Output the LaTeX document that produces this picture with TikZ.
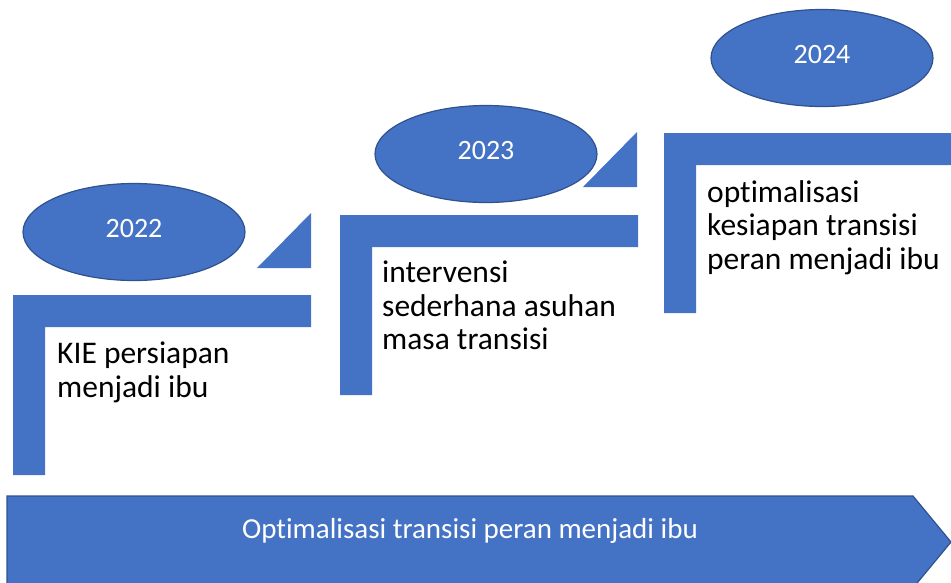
\documentclass[tikz,border=0pt]{standalone}
\usepackage{fontspec}
\setmainfont{Carlito}[Ligatures=NoCommon]
\usepackage{tikz}
\usetikzlibrary{shapes.geometric}
\usepackage{xcolor}
\definecolor{stepblue}{HTML}{4472C4}
\definecolor{edgeblue}{HTML}{2F528F}

\tikzset{
    yearball/.style={ellipse, draw=edgeblue, line width=1.2pt, fill=stepblue,
        minimum width=222pt, minimum height=97pt, text=white, text depth=8pt,
        font=\fontsize{28}{34}\selectfont},
    stepnote/.style={anchor=north west, inner sep=0pt, align=left,
        font=\fontsize{31.5}{33.5}\selectfont}
}

\begin{document}
\begin{tikzpicture}[x=1pt, y=-1pt]
    \clip (0,0) rectangle (951,582);
    \foreach \x/\y in {0/0,327/-80,651/-162} {
        \fill[stepblue, shift={(\x,\y)}] (13,295) -- (311,295) -- (311,327) -- (45,327) -- (45,475) -- (13,475) -- cycle;
    }
    \foreach \x/\y in {0/0,326/-81} {
        \fill[stepblue, shift={(\x,\y)}] (257,268) -- (311,268) -- (311,213) -- cycle;
    }
    \foreach \x/\y/\t in {134/232/2022,486/154/2023,822/58/2024} {
        \node[yearball] (year\t) at (\x,\y) {\t};
    }
    \node[stepnote] (kie) at (57,342) {KIE persiapan\\menjadi ibu};
    \node[stepnote] (intervensi) at (382,261) {intervensi\\sederhana asuhan\\masa transisi};
    \node[stepnote] (kesiapan) at (707,180) {optimalisasi\\kesiapan transisi\\peran menjadi ibu};
    \draw[edgeblue, line width=1.2pt, fill=stepblue] (7,496) -- (913,496) -- (951,542) -- (913,588) -- (7,588) -- cycle;
    \node[text=white, font=\fontsize{29}{34}\selectfont] (tema) at (470,531) {Optimalisasi transisi peran menjadi ibu};
\end{tikzpicture}
\end{document}
